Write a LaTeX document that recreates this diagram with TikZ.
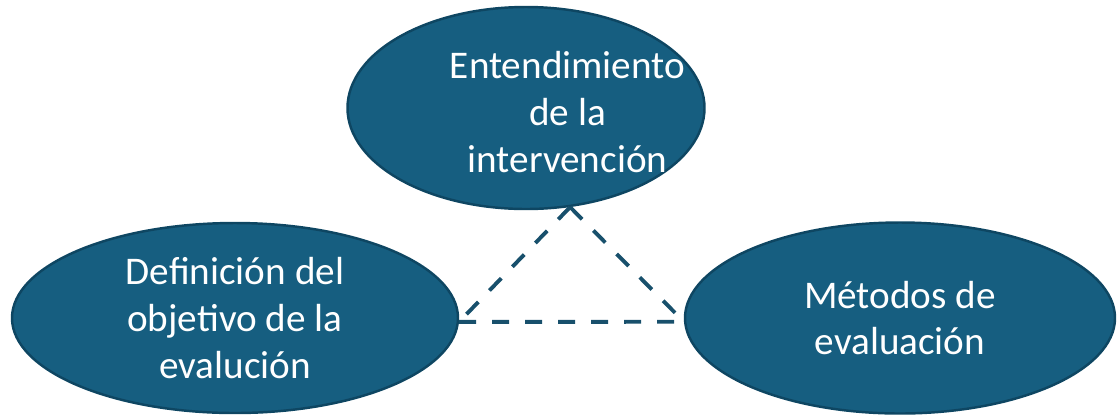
\documentclass[tikz,border=0pt]{standalone}
\usepackage{fontspec}
\setmainfont{Carlito}
\usetikzlibrary{shapes, shapes.geometric, positioning, calc}
\definecolor{bubblefill}{RGB}{22,94,128}
\definecolor{bubbleedge}{RGB}{14,70,98}
\definecolor{linkcol}{RGB}{24,80,108}

\begin{document}
\begin{tikzpicture}
\tikzset{bubble/.style={draw=bubbleedge, line width=1.4pt, ellipse, fill=bubblefill, inner sep=0pt, text=white, align=center, font=\fontsize{22.3}{26.5}\selectfont},
         txt/.style={text=white, align=center, font=\fontsize{22.3}{26.5}\selectfont},
         link/.style={draw=linkcol, line width=2.2pt, dash pattern=on 0.34cm off 0.32cm}}
\useasboundingbox (0,0) rectangle (22.34,-8.36);
\node[bubble, minimum width=7.14cm, minimum height=4.04cm] (N1) at (10.52,-2.16) {};
\node[txt] (T1) at (11.35,-2.24) {Entendimiento\\de la\\intervención};
\node[bubble, minimum width=8.92cm, minimum height=3.8cm] (N2) at (4.70,-6.36) {Definición del\\objetivo de la\\evalución};
\node[bubble, minimum width=8.6cm, minimum height=3.82cm] (N3) at (18.00,-6.36) {Métodos de\\evaluación};
\draw[link] (N1.-66) -- (N2.-1.3); \draw[link] (N1.-66) -- (N3.181.3);
\draw[link] (N2.-1.3) -- (N3.181.3);
\end{tikzpicture}
\end{document}
